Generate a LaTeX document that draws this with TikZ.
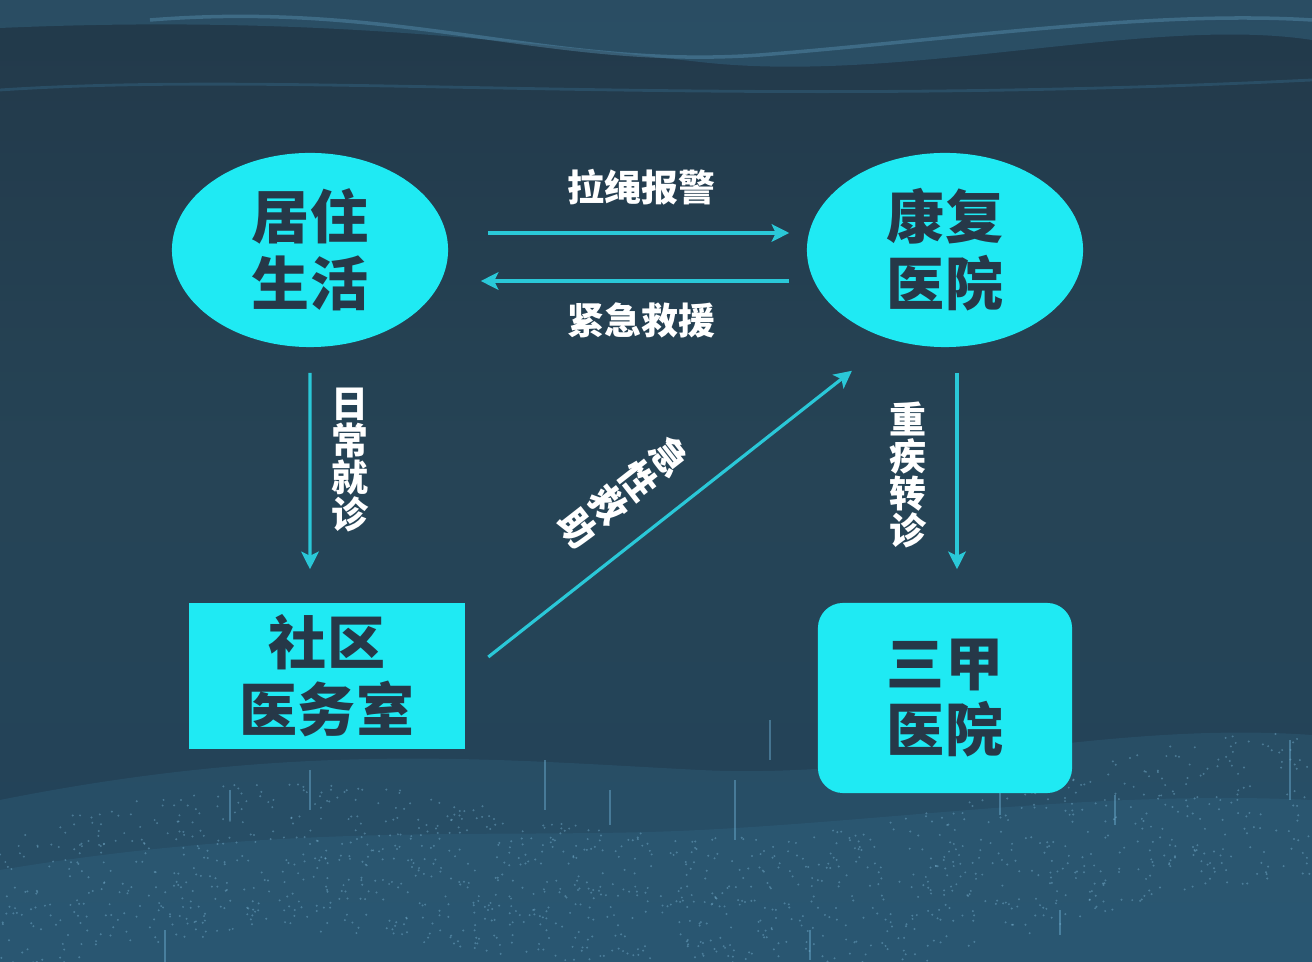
\documentclass[tikz,border=0pt]{standalone}
\usepackage{fontspec}
\setmainfont{Noto Sans CJK SC}
\usetikzlibrary{shapes.geometric,arrows.meta,positioning}
\definecolor{bgtop}{HTML}{22394A}
\definecolor{bgmid}{HTML}{264456}
\definecolor{bglow}{HTML}{22435A}
\definecolor{glow}{HTML}{4A9ECB}
\definecolor{nodecyan}{HTML}{1FEAF3}
\definecolor{arrowcyan}{HTML}{2AC8D8}
\definecolor{inktext}{HTML}{263848}
\tikzset{
  base/.style={fill=nodecyan, text=inktext, align=center, inner sep=0pt,
    font=\fontsize{16.5}{19}\selectfont\bfseries},
  oval/.style={base, ellipse, minimum width=2.76cm, minimum height=1.94cm},
  plainbox/.style={base, rectangle, minimum width=2.75cm, minimum height=1.46cm},
  roundbox/.style={base, rectangle, rounded corners=0.25cm, minimum width=2.54cm, minimum height=1.9cm},
  flow/.style={arrowcyan, line width=0.9pt, -{Stealth[length=5pt,width=5pt,inset=1.2pt]}},
  tag/.style={text=white, inner sep=0pt, align=center,
    font=\fontsize{10.5}{10.6}\selectfont\bfseries}
}
\begin{document}
\begin{tikzpicture}[x=0.01cm,y=-0.01cm]
    \useasboundingbox (0,0) rectangle (1312,962);
    % background
    \begin{scope}
        \clip (0,0) rectangle (1312,962);
        \shade[top color=bgtop, bottom color=bglow, middle color=bgmid] (0,0) rectangle (1312,962);
        \fill[glow, opacity=.2] (0,0) -- (1312,0) -- (1312,40) .. controls (1150,15) and (900,85) .. (700,62) .. controls (500,40) and (300,15) .. (0,28) -- cycle;
        \draw[glow!80!white, opacity=.3, line width=1pt] (150,20) .. controls (400,0) and (550,70) .. (760,55) .. controls (950,40) and (1150,10) .. (1312,20);
        \draw[glow, opacity=.2, line width=.8pt] (0,90) .. controls (300,70) and (700,110) .. (1312,80);
        \fill[glow, opacity=.12] (0,800) .. controls (300,740) and (500,760) .. (700,770) .. controls (900,780) and (1100,720) .. (1312,735) -- (1312,962) -- (0,962) -- cycle;
        \fill[glow, opacity=.1] (0,870) .. controls (300,820) and (500,840) .. (700,830) .. controls (900,820) and (1100,790) .. (1312,800) -- (1312,962) -- (0,962) -- cycle;
        \pgfmathsetseed{7}
        \foreach \k in {1,...,1400}{
            \pgfmathsetmacro\px{rnd*1312}
            \pgfmathsetmacro\py{835-40*sin(\px*0.35)-0.05*\px+rnd*150}
            \fill[glow!70!white, opacity=.4] (\px,\py) circle (0.011cm);
        }
        \foreach \sx/\sy/\sh in {230/790/30,310/770/40,545/760/50,610/790/35,735/780/60,770/720/40,1000/770/45,1115/795/30,1290/740/60,165/930/40,810/930/30,1060/910/25}
            \draw[glow!80!white, opacity=.45, line width=.4pt] (\sx,\sy) -- ++(0,\sh);
    \end{scope}

    % nodes
    \node[oval] (home) at (310,250) {居住\\生活};
    \node[oval] (rehab) at (945,250) {康复\\医院};
    \node[plainbox] (clinic) at (327,676) {社区\\医务室};
    \node[roundbox] (top) at (945,698) {三甲\\医院};

    % connectors
    \draw[flow, shorten <=0.39cm, shorten >=0.17cm] ([yshift=0.17cm]home.east) -- ([yshift=0.17cm]rehab.west)
        node[tag, midway, above=0.26cm, xshift=0.14cm] {拉绳报警};
    \draw[flow, shorten <=0.17cm, shorten >=0.32cm] ([yshift=-0.31cm]rehab.west) -- ([yshift=-0.31cm]home.east)
        node[tag, midway, below=0.2cm, xshift=0.14cm] {紧急救援};
    \draw[flow, shorten <=0.25cm, shorten >=0.33cm] (home.south) -- ([xshift=-0.17cm]clinic.north)
        node[tag, midway, right=0.2cm, yshift=0.15cm] {日\\常\\就\\诊};
    \draw[flow, shorten <=0.25cm, shorten >=0.33cm] ([xshift=0.12cm]rehab.south) -- ([xshift=0.12cm]top.north)
        node[tag, midway, left=0.29cm] {重\\疾\\转\\诊};
    \draw[flow] ([xshift=0.23cm,yshift=0.19cm]clinic.east) -- ([xshift=-0.93cm,yshift=-0.23cm]rehab.south)
        node[tag, pos=0.45, shift={(-28,-36)}, rotate=-52, font=\fontsize{10.5}{11}\selectfont\bfseries] {急\\性\\救\\助};
\end{tikzpicture}
\end{document}
